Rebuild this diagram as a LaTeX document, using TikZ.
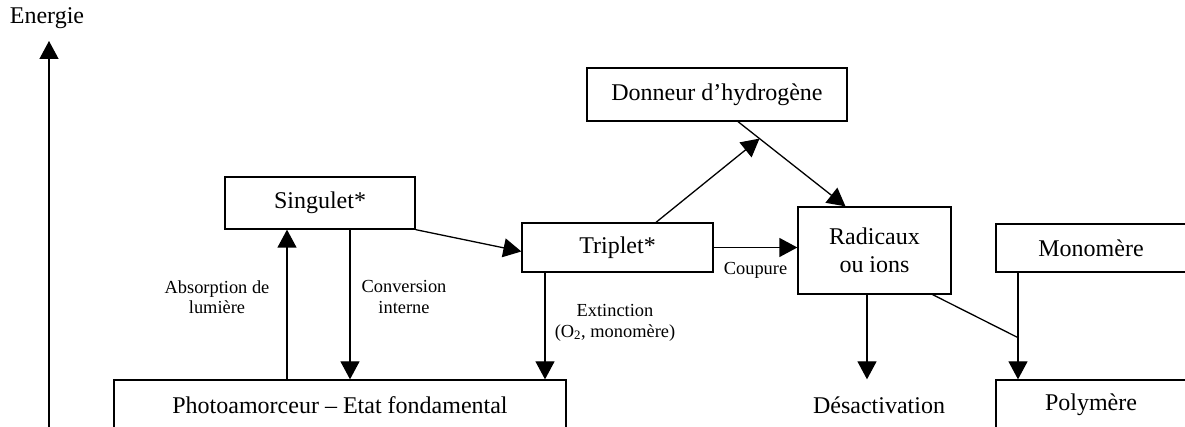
\documentclass[tikz,border=0pt]{standalone}
\usepackage{fontspec}
\setmainfont{Liberation Serif}
\usetikzlibrary{arrows.meta,positioning,calc}
\newcommand{\grand}{\fontsize{24}{28}\selectfont}
\newcommand{\petit}{\fontsize{18.4}{20.5}\selectfont}
\tikzset{
  boite/.style={rectangle, draw, line width=1.3pt, inner sep=0pt,
    font=\grand, align=center},
  fleche/.style={-{Triangle[length=18pt,width=19pt]}, line width=1.3pt},
  legende/.style={font=\petit, align=center, inner sep=0pt}
}
\begin{document}
\begin{tikzpicture}[x=1pt,y=1pt,line width=1.3pt]
  \useasboundingbox (0,0) rectangle (1185,427);
  % axe des energies
  \coordinate (axebas) at (49,0);
  \coordinate (axehaut) at (49,386);
  \draw[fleche] (axebas) -- (axehaut);
  \node[font=\grand] (energie) at (47,409) {Energie};

  % etats et especes
  \node[boite, minimum width=190pt, minimum height=52pt] (singulet) at (320,224) {Singulet*};
  \node[boite, minimum width=191pt, minimum height=49pt] (triplet) at (617.5,179.5) {Triplet*};
  \node[boite, minimum width=260pt, minimum height=53pt] (donneur) at (717,332.5) {Donneur d’hydrogène};
  \node[boite, minimum width=153pt, minimum height=87pt] (radicaux) at (874.5,176.5) {Radicaux\\ou ions};
  \node[boite, minimum width=190pt, minimum height=48pt] (monomere) at (1091,179) {Monomère};
  \node[boite, minimum width=452pt, minimum height=50pt] (photo) at (340,22) {Photoamorceur -- Etat fondamental};
  \node[boite, minimum width=190pt, minimum height=50pt] (polymere) at (1091,22) {Polymère};
  \node[boite, draw=none, minimum height=50pt] (desact) at (879,22) {Désactivation};

  % transitions
  \draw[fleche] ([xshift=-33pt]singulet.south |- photo.north) -- ([xshift=-33pt]singulet.south);
  \draw[fleche] ([xshift=30pt]singulet.south) -- ([xshift=30pt]singulet.south |- photo.north);
  \draw[fleche] (singulet.south east) -- ([yshift=-4pt]triplet.west);
  \draw[fleche] ([xshift=-72.5pt]triplet.south) -- ([xshift=-72.5pt]triplet.south |- photo.north);
  \node[legende] (absorption) at (217,130) {Absorption de\\lumière};
  \node[legende] (conversion) at (404,130) {Conversion\\interne};
  \node[legende] (extinction) at (615,104) {Extinction\\(O\textsubscript{2}, monomère)};

  \coordinate (milieu) at ($([xshift=21pt]donneur.south)!0.2!([xshift=-29pt]radicaux.north)$);
  \draw[fleche] ([xshift=38.5pt]triplet.north) -- (milieu);
  \draw[fleche] ([xshift=21pt]donneur.south) -- ([xshift=-29pt]radicaux.north);
  \draw[fleche] (triplet.east) -- (triplet.east -| radicaux.west)
    node[legende, midway, below=14pt] (coupure) {Coupure};

  \draw[fleche] ([xshift=-7.5pt]radicaux.south) -- ([xshift=-7.5pt]radicaux.south |- desact.north);
  \coordinate (jonction) at ([xshift=-73pt,yshift=-65pt]monomere.south);
  \draw ([xshift=-19pt]radicaux.south east) -- (jonction);
  \draw[fleche] ([xshift=-73pt]monomere.south) -- ([xshift=-73pt]polymere.north);
\end{tikzpicture}
\end{document}
